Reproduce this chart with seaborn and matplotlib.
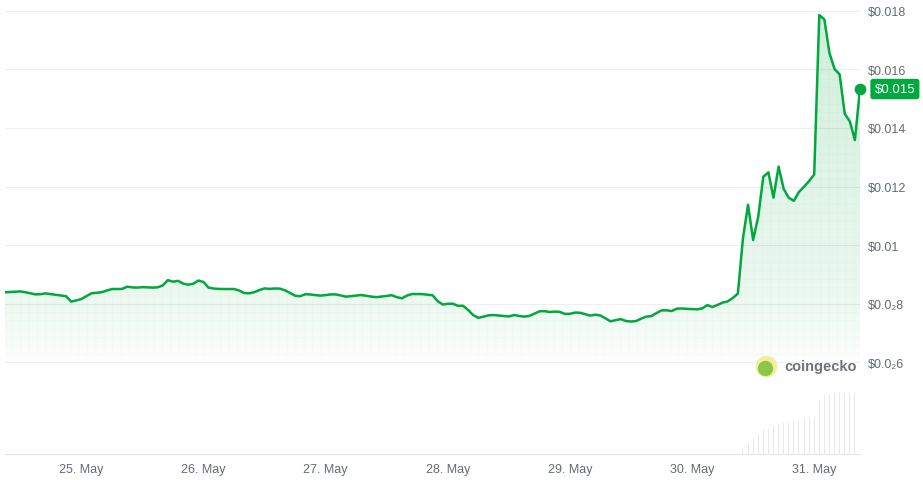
import numpy as np
import pandas as pd
import matplotlib
matplotlib.use("Agg")
import matplotlib.pyplot as plt
import matplotlib.dates as mdates
import seaborn as sns

# -------------------------------
# Data (hourly price)
# -------------------------------
times = pd.date_range("2025-05-24 09:00", periods=169, freq="h")

price = [
    0.008389, 0.008399, 0.008409, 0.008419, 0.008392, 0.008355, 0.008317, 0.008327, 0.008351, 0.008327,
    0.008300, 0.008280, 0.008256, 0.008072, 0.008113, 0.008160, 0.008256, 0.008355, 0.008372, 0.008392,
    0.008450, 0.008501, 0.008501, 0.008505, 0.008580, 0.008556, 0.008549, 0.008566, 0.008556, 0.008549,
    0.008559, 0.008624, 0.008805, 0.008750, 0.008781, 0.008686, 0.008648, 0.008682, 0.008791, 0.008740,
    0.008549, 0.008518, 0.008505, 0.008501, 0.008501, 0.008501, 0.008450, 0.008365, 0.008355, 0.008395,
    0.008467, 0.008522, 0.008505, 0.008518, 0.008515, 0.008457, 0.008368, 0.008273, 0.008256, 0.008324,
    0.008314, 0.008293, 0.008276, 0.008293, 0.008317, 0.008317, 0.008280, 0.008239, 0.008259, 0.008276,
    0.008296, 0.008269, 0.008242, 0.008222, 0.008245, 0.008269, 0.008290, 0.008222, 0.008184, 0.008280,
    0.008331, 0.008331, 0.008327, 0.008307, 0.008290, 0.008092, 0.007972, 0.007996, 0.008000, 0.007928,
    0.007928, 0.007785, 0.007611, 0.007519, 0.007556, 0.007604, 0.007614, 0.007597, 0.007580, 0.007563,
    0.007614, 0.007583, 0.007559, 0.007583, 0.007658, 0.007740, 0.007747, 0.007716, 0.007730, 0.007723,
    0.007651, 0.007655, 0.007696, 0.007692, 0.007644, 0.007593, 0.007627, 0.007597, 0.007498, 0.007398,
    0.007439, 0.007474, 0.007409, 0.007392, 0.007406, 0.007491, 0.007559, 0.007576, 0.007679, 0.007771,
    0.007774, 0.007750, 0.007829, 0.007836, 0.007825, 0.007815, 0.007808, 0.007839, 0.007952, 0.007887,
    0.007959, 0.008037, 0.008078, 0.008194, 0.008344, 0.010228, 0.011379, 0.010174, 0.010969, 0.012334,
    0.012484, 0.011618, 0.012679, 0.011921, 0.011618, 0.011512, 0.011812, 0.011993, 0.012188, 0.012410,
    0.017853, 0.017703, 0.016556, 0.016010, 0.015826, 0.014484, 0.014222, 0.013587, 0.015327,
]

# 24h volume bars only show up at the end of the week
volume_times = pd.date_range("2025-05-30 10:00", periods=23, freq="h")
volume_k = [50, 100, 150, 200, 240, 265, 285, 305, 310, 310, 320, 340,
            357, 370, 375, 540, 590, 600, 610, 620, 615, 610, 615]

ytick_vals = [0.006, 0.008, 0.010, 0.012, 0.014, 0.016, 0.018]
ytick_labels = ["\\$0.0\u20826", "\\$0.0\u20828", "\\$0.01", "\\$0.012",
                "\\$0.014", "\\$0.016", "\\$0.018"]
xtick_days = pd.date_range("2025-05-25", "2025-05-31", freq="D")
xtick_labels = [f"{d.day}. May" for d in xtick_days]

# -------------------------------
# Style
# -------------------------------
sns.set_style("white")
plt.rcParams["font.family"] = ["Liberation Sans", "DejaVu Sans"]

GREEN = "#00a83e"
GRAY_TXT = "#646b76"

fig = plt.figure(figsize=(9.23, 4.81), dpi=100)
ax = fig.add_axes([5 / 923, 26 / 481, 855 / 923, 455 / 481])

# volume on a twin axis, drawn behind the price
ax2 = ax.twinx()
ax2.bar(volume_times, volume_k, width=0.008, color="#e6e8ec", linewidth=0)
ax2.set_ylim(0, max(volume_k) * 455 / 62)
ax2.set_yticks([])
for s in ax2.spines.values():
    s.set_visible(False)
ax.set_zorder(ax2.get_zorder() + 1)
ax.patch.set_visible(False)

# price line
sns.lineplot(x=times, y=price, ax=ax, color=GREEN, linewidth=1.8, zorder=5)

ymin, ymax = 0.00287, 0.0184
ax.set_ylim(ymin, ymax)
ax.set_xlim(times[0], times[-1])

# gradient fill under the line
floor = 0.0057
poly = ax.fill_between(times, price, floor, facecolor="none", linewidth=0)
path = poly.get_paths()[0]
yy = np.linspace(floor, 0.018, 300)
alpha = np.interp(yy, [floor, 0.008, 0.018], [0.0, 0.075, 0.19])
grad = np.zeros((300, 1, 4))
grad[..., 0] = 0 / 255
grad[..., 1] = 168 / 255
grad[..., 2] = 62 / 255
grad[..., 3] = alpha[:, None]
x0, x1 = mdates.date2num(times[0]), mdates.date2num(times[-1])
img = ax.imshow(grad, aspect="auto", origin="lower",
                extent=[x0, x1, floor, 0.018], zorder=2, interpolation="bilinear")
img.set_clip_path(path, transform=ax.transData)

# faint grid texture inside the fill
plt.rcParams["hatch.linewidth"] = 0.5
ax.fill_between(times, price, 0.0062, facecolor="none",
                edgecolor=(0.0, 0.66, 0.24, 0.03), hatch="++", linewidth=0, zorder=3)

# end dot and price tag
ax.scatter([times[-1]], [price[-1]], s=55, color=GREEN, zorder=6, clip_on=False)
ax.annotate("\\$0.015", xy=(times[-1], price[-1]), xytext=(10.5, 0),
            textcoords="offset points", ha="left", va="center",
            color="white", fontsize=9.5, annotation_clip=False,
            bbox=dict(boxstyle="round,pad=0.32,rounding_size=0.2", fc=GREEN, ec="none"))

# axes cosmetics
ax.set_yticks(ytick_vals)
ax.set_yticklabels(ytick_labels)
ax.yaxis.tick_right()
ax.tick_params(axis="y", length=0, pad=6, labelsize=9, labelcolor=GRAY_TXT)
ax.grid(axis="y", color="#efefef", linewidth=0.8)
ax.grid(axis="x", visible=False)

ax.set_xticks(xtick_days)
ax.set_xticklabels(xtick_labels)
ax.tick_params(axis="x", length=5, width=0.8, color="#e3e5e9", pad=1.5,
               labelsize=9, labelcolor=GRAY_TXT)
ax.set_xlabel("")
ax.set_ylabel("")

for name, s in ax.spines.items():
    s.set_visible(name == "bottom")
ax.spines["bottom"].set_color("#e3e5e9")
ax.spines["bottom"].set_linewidth(0.8)

# coingecko watermark
ax.scatter([0.890], [0.193], s=210, color="#f6eca0", transform=ax.transAxes, zorder=7)
ax.scatter([0.889], [0.190], s=100, color="#8dc647", transform=ax.transAxes, zorder=8)
ax.text(0.912, 0.193, "coingecko", transform=ax.transAxes, ha="left", va="center",
        fontsize=10.5, fontweight="bold", color="#6f737a", zorder=8)

fig.savefig("out.png", dpi=100)
